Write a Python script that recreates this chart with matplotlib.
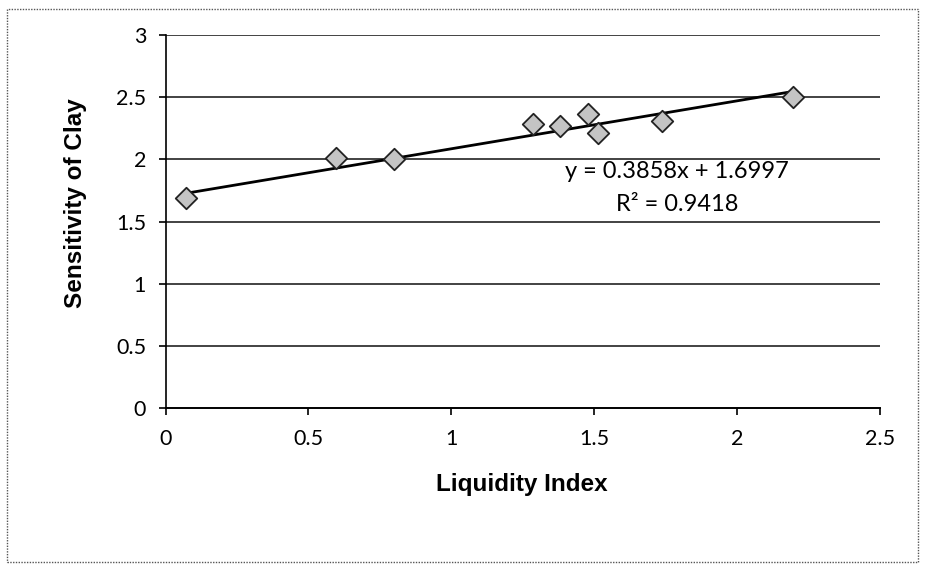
import matplotlib.pyplot as plt
import numpy as np

# liquidity index vs sensitivity of clay
liquidity_index = [0.07, 0.595, 0.80, 1.285, 1.38, 1.478, 1.513, 1.737, 2.195]
sensitivity = [1.69, 2.01, 2.00, 2.285, 2.27, 2.365, 2.21, 2.31, 2.50]

slope = 0.3858
intercept = 1.6997
eq_text = "y = 0.3858x + 1.6997"
r2_text = "R² = 0.9418"

plt.rcParams['font.family'] = ['Lato', 'DejaVu Sans']

fig = plt.figure(figsize=(9.25, 5.68), dpi=100)
ax = fig.add_axes([0.179, 0.282, 0.772, 0.656])

# horizontal gridlines
for yv in np.arange(0.5, 3.01, 0.5):
    ax.axhline(yv, color='#222222', lw=1.2, zorder=1)

ax.scatter(liquidity_index, sensitivity, marker='D', s=120, facecolor='#c4c4c4',
           edgecolor='#222222', linewidth=1.3, zorder=3)

# linear trendline over the data range
xs = np.array([min(liquidity_index), max(liquidity_index)])
ax.plot(xs, slope * xs + intercept, color='black', lw=2.0, zorder=2)

ax.text(1.79, 1.90, eq_text, ha='center', va='center', fontsize=17)
ax.text(1.79, 1.64, r2_text, ha='center', va='center', fontsize=17)

ax.set_xlim(0, 2.5)
ax.set_ylim(0, 3)
ax.set_xticks([0, 0.5, 1, 1.5, 2, 2.5])
ax.set_xticklabels(['0', '0.5', '1', '1.5', '2', '2.5'])
ax.set_yticks([0, 0.5, 1, 1.5, 2, 2.5, 3])
ax.set_yticklabels(['0', '0.5', '1', '1.5', '2', '2.5', '3'])
ax.tick_params(axis='x', labelsize=15.5, direction='out', length=5, width=1.2, pad=10)
ax.tick_params(axis='y', labelsize=15.5, direction='out', length=5, width=1.2, pad=9)

for side in ['top', 'right']:
    ax.spines[side].set_visible(False)
ax.spines['left'].set_linewidth(1.2)
ax.spines['bottom'].set_linewidth(1.4)

ax.set_xlabel("Liquidity Index", fontsize=17.5, fontweight='bold',
              family=['Liberation Sans', 'DejaVu Sans'])
ax.set_ylabel("Sensitivity of Clay", fontsize=17.5, fontweight='bold',
              family=['Liberation Sans', 'DejaVu Sans'])
ax.xaxis.set_label_coords(0.499, -0.176)
ax.yaxis.set_label_coords(-0.110, 0.55)

# outer frame of chart area
frame = plt.Rectangle((0.008, 0.01), 0.984, 0.975, transform=fig.transFigure,
                      fill=False, edgecolor='#555555', lw=1.0, linestyle=(0, (1, 1)))
fig.patches.append(frame)

fig.savefig("out.png", dpi=100)
